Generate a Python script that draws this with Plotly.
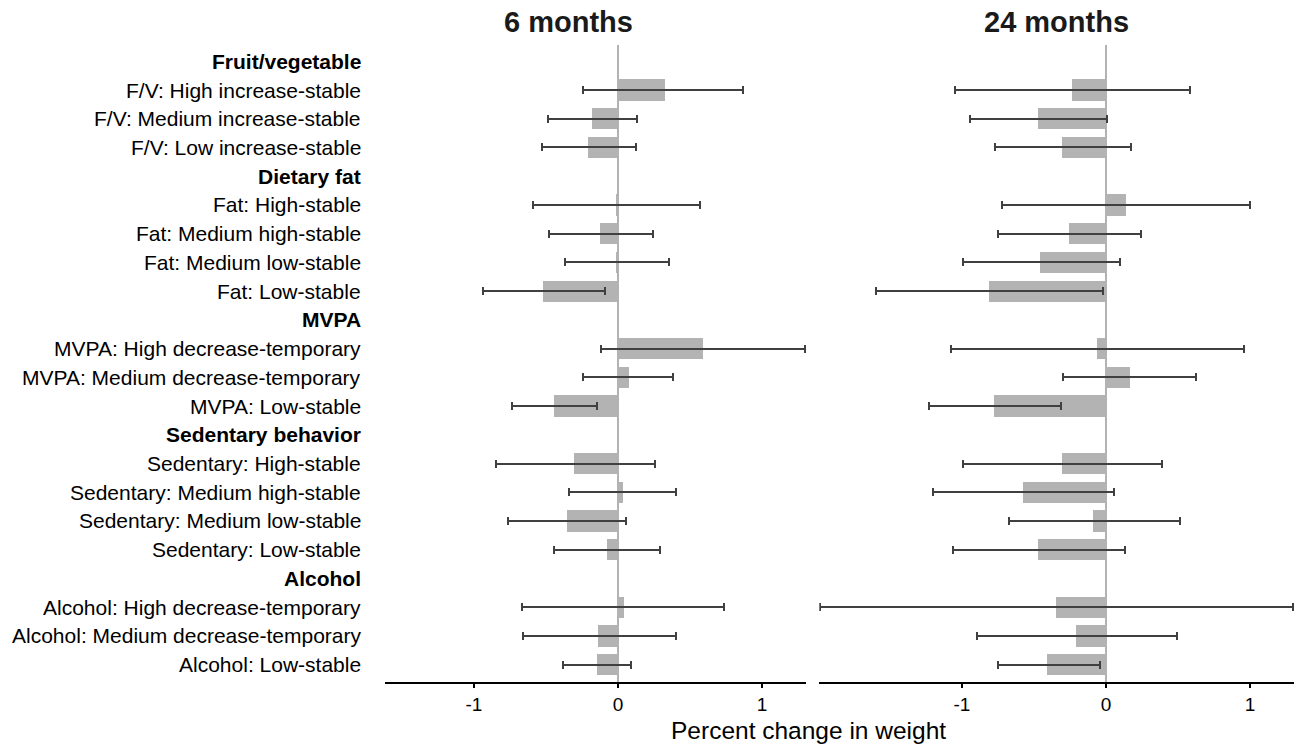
import plotly.graph_objects as go

W, H = 1297, 746

row_labels = [
    "Fruit/vegetable",
    "F/V: High increase-stable",
    "F/V: Medium increase-stable",
    "F/V: Low increase-stable",
    "Dietary fat",
    "Fat: High-stable",
    "Fat: Medium high-stable",
    "Fat: Medium low-stable",
    "Fat: Low-stable",
    "MVPA",
    "MVPA: High decrease-temporary",
    "MVPA: Medium decrease-temporary",
    "MVPA: Low-stable",
    "Sedentary behavior",
    "Sedentary: High-stable",
    "Sedentary: Medium high-stable",
    "Sedentary: Medium low-stable",
    "Sedentary: Low-stable",
    "Alcohol",
    "Alcohol: High decrease-temporary",
    "Alcohol: Medium decrease-temporary",
    "Alcohol: Low-stable",
]
is_header = [True, False, False, False, True, False, False, False, False,
             True, False, False, False, True, False, False, False, False,
             True, False, False, False]

# 6 months: estimate, lower CI, upper CI (None for header rows)
est_6m = [None, 0.326, -0.183, -0.206, None, -0.016, -0.125, -0.010, -0.523,
          None, 0.593, 0.076, -0.447, None, -0.303, 0.032, -0.356, -0.079,
          None, 0.042, -0.137, -0.148]
lo_6m = [None, -0.240, -0.484, -0.526, None, -0.593, -0.479, -0.368, -0.940,
         None, -0.118, -0.245, -0.736, None, -0.850, -0.340, -0.764, -0.442,
         None, -0.667, -0.662, -0.380]
hi_6m = [None, 0.870, 0.130, 0.123, None, 0.569, 0.243, 0.356, -0.093,
         None, 1.296, 0.380, -0.144, None, 0.255, 0.400, 0.056, 0.292,
         None, 0.738, 0.400, 0.093]

# 24 months
est_24m = [None, -0.234, -0.472, -0.303, None, 0.144, -0.257, -0.454, -0.810,
           None, -0.062, 0.167, -0.775, None, -0.306, -0.576, -0.086, -0.468,
           None, -0.347, -0.204, -0.405]
lo_24m = [None, -1.046, -0.944, -0.771, None, -0.725, -0.748, -0.991, -1.595,
          None, -1.074, -0.301, -1.227, None, -0.991, -1.199, -0.676, -1.060,
          None, -1.985, -0.894, -0.750]
hi_24m = [None, 0.586, 0.009, 0.174, None, 1.002, 0.241, 0.097, -0.019,
          None, 0.960, 0.623, -0.315, None, 0.387, 0.056, 0.512, 0.132,
          None, 1.300, 0.493, -0.042]

panel_titles = ["6 months", "24 months"]
x_title = "Percent change in weight"
tick_vals = [-1, 0, 1]
tick_text = ["-1", "0", "1"]

BAR = "#b3b3b3"
ERR = "#404040"
FONT = "Liberation Sans, Arial, sans-serif"

def px_x(p):
    return p / W

def px_y(p):
    return 1 - p / H

fig = go.Figure()

for est, lo, hi, xa in [(est_6m, lo_6m, hi_6m, "x"), (est_24m, lo_24m, hi_24m, "x2")]:
    ys, xs, plus, minus = [], [], [], []
    for i, (e, l, h) in enumerate(zip(est, lo, hi)):
        if e is None:
            continue
        ys.append(i)
        xs.append(e)
        plus.append(h - e)
        minus.append(e - l)
    fig.add_trace(go.Bar(
        x=xs, y=ys, orientation="h", xaxis=xa, yaxis="y",
        width=0.74,
        marker=dict(color=BAR, line=dict(width=0)),
        error_x=dict(type="data", symmetric=False, array=plus, arrayminus=minus,
                     color=ERR, thickness=2, width=4),
        showlegend=False, hoverinfo="skip",
    ))

y_top, y_bot = 45, 681.7
row_px = 28.73
y_range = [-0.567 + (y_bot - y_top) / row_px, -0.567]

axis_common = dict(
    showgrid=False, zeroline=True, zerolinecolor=BAR, zerolinewidth=2,
    showline=True, linecolor="black", linewidth=2,
    ticks="outside", ticklen=4, tickwidth=2, tickcolor="black",
    tickvals=tick_vals, ticktext=tick_text,
    tickfont=dict(family=FONT, size=19, color="black"),
    anchor="y", fixedrange=True,
)

fig.update_layout(
    width=W, height=H,
    margin=dict(l=0, r=0, t=0, b=0),
    paper_bgcolor="white", plot_bgcolor="white",
    bargap=0,
    xaxis=dict(domain=[px_x(385), px_x(806)], range=[-1.618, 1.3056], **axis_common),
    xaxis2=dict(domain=[px_x(819.3), px_x(1294)], range=[-1.991, 1.3056], **axis_common),
    yaxis=dict(domain=[px_y(y_bot), px_y(y_top)], range=y_range,
               showticklabels=False, showgrid=False, zeroline=False,
               showline=False, ticks="", fixedrange=True),
)

annotations = []
for i, (lab, hd) in enumerate(zip(row_labels, is_header)):
    annotations.append(dict(
        x=px_x(362.7), xref="paper", y=i, yref="y",
        xanchor="right", yanchor="middle", showarrow=False,
        text=f"<b>{lab}</b>" if hd else lab,
        font=dict(family=FONT, size=21, color="black"),
    ))

for t, cx in zip(panel_titles, [568, 1056]):
    annotations.append(dict(
        x=px_x(cx), xref="paper", y=px_y(22), yref="paper",
        xanchor="center", yanchor="middle", showarrow=False,
        text=f"<b>{t}</b>",
        font=dict(family=FONT, size=29, color="#1a1a1a"),
    ))

annotations.append(dict(
    x=px_x(808), xref="paper", y=px_y(730), yref="paper",
    xanchor="center", yanchor="middle", showarrow=False,
    text=x_title, font=dict(family=FONT, size=24.5, color="black"),
))

fig.update_layout(annotations=annotations)

fig.write_html("out.html")
